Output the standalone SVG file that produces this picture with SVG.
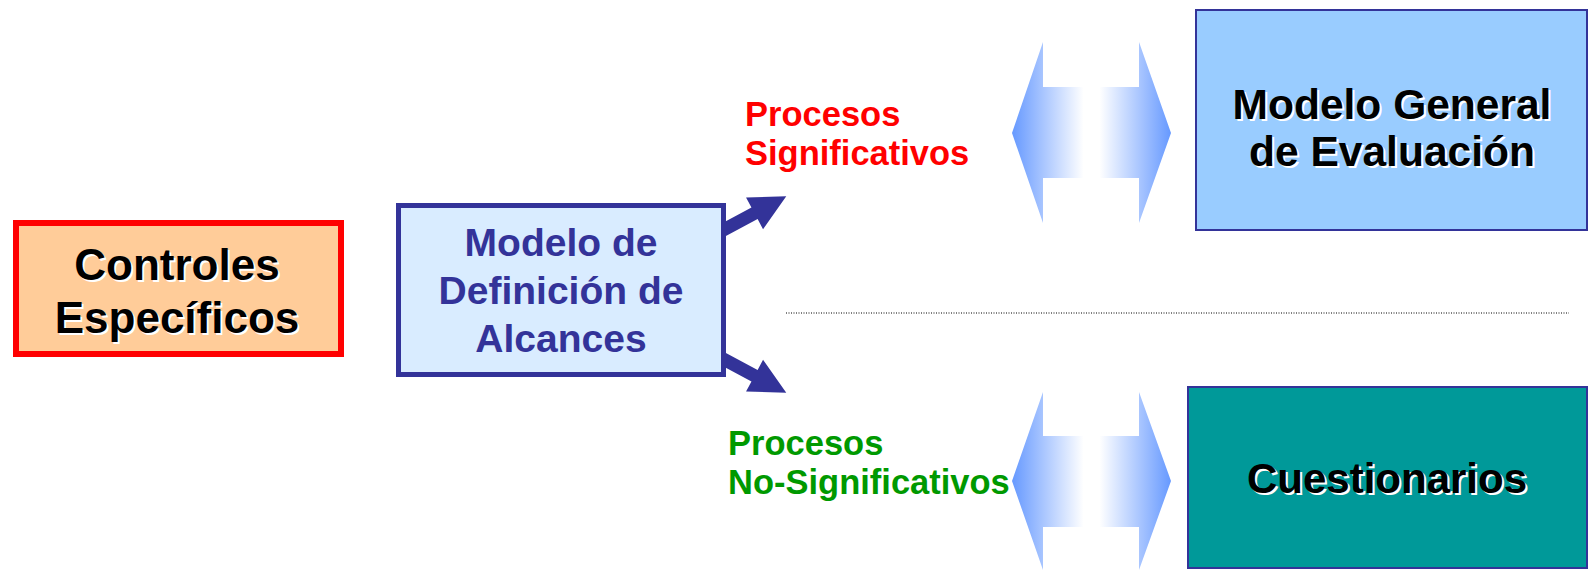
<svg xmlns="http://www.w3.org/2000/svg" width="1589" height="570" viewBox="0 0 1589 570">
  <defs>
    <linearGradient id="dblGrad" x1="0" y1="0" x2="1" y2="0">
      <stop offset="0" stop-color="#6699FF"/>
      <stop offset="0.45" stop-color="#FFFFFF"/>
      <stop offset="0.55" stop-color="#FFFFFF"/>
      <stop offset="1" stop-color="#6699FF"/>
    </linearGradient>
    <path id="thickArrow" d="M0,-6.5 L46,-6.5 L46,-18 L82,0 L46,18 L46,6.5 L0,6.5 Z"/>
  </defs>
  <style>
    .big { font-family: "Liberation Sans", Arial, sans-serif; font-weight: bold; text-anchor: middle; }
    .shadow { fill: #FFFFFF; }
    .black { fill: #000000; }
    .lbl { font-family: "Liberation Sans", Arial, sans-serif; font-weight: bold; font-size: 34.5px; }
    .dbl { fill: url(#dblGrad); }
  </style>
  <rect width="1589" height="570" fill="#FFFFFF"/>

  <g id="connectors">
    <use href="#thickArrow" fill="#333399" transform="translate(714,235) rotate(-28.2)"/>
    <use href="#thickArrow" fill="#333399" transform="translate(714,354) rotate(28.2)"/>
    <line x1="786" y1="313" x2="1569" y2="313" stroke="#000000" stroke-width="1" stroke-dasharray="1,1.5"/>
    <polygon class="dbl" points="1012,133 1043,42 1043,87 1139,87 1139,42 1171,133 1139,223 1139,178 1043,178 1043,223"/>
    <polygon class="dbl" points="1012,481 1043,392 1043,436 1139,436 1139,392 1171,481 1139,570 1139,527 1043,527 1043,570"/>
  </g>

  <g id="controles">
    <rect x="16" y="223" width="325" height="131" fill="#FFCC99" stroke="#FF0000" stroke-width="6"/>
    <g class="big" font-size="44">
      <text class="shadow" x="179" y="282">Controles</text>
      <text class="black" x="177" y="280">Controles</text>
      <text class="shadow" x="179" y="335">Específicos</text>
      <text class="black" x="177" y="333">Específicos</text>
    </g>
  </g>

  <g id="modelo-definicion">
    <rect x="398.5" y="205.5" width="325" height="169" fill="#D9ECFF" stroke="#333399" stroke-width="5"/>
    <g class="big" font-size="39" fill="#333399">
      <text x="561" y="256">Modelo de</text>
      <text x="561" y="304">Definición de</text>
      <text x="561" y="352">Alcances</text>
    </g>
  </g>

  <g id="modelo-general">
    <rect x="1196" y="10" width="391" height="220" fill="#99CCFF" stroke="#333399" stroke-width="2"/>
    <g class="big" font-size="42.5">
      <text class="shadow" x="1394" y="121">Modelo General</text>
      <text class="black" x="1392" y="119">Modelo General</text>
      <text class="shadow" x="1394" y="168">de Evaluación</text>
      <text class="black" x="1392" y="166">de Evaluación</text>
    </g>
  </g>

  <g id="cuestionarios">
    <rect x="1188" y="387" width="399" height="181" fill="#009999" stroke="#333399" stroke-width="2"/>
    <g class="big" font-size="42">
      <text class="shadow" x="1389" y="495">Cuestionarios</text>
      <text class="black" x="1387" y="493">Cuestionarios</text>
    </g>
  </g>

  <g id="label-significativos" class="lbl" fill="#FF0000">
    <text x="745" y="126">Procesos</text>
    <text x="745" y="165">Significativos</text>
  </g>

  <g id="label-no-significativos" class="lbl" fill="#009900">
    <text x="728" y="455">Procesos</text>
    <text x="728" y="494">No-Significativos</text>
  </g>
</svg>
